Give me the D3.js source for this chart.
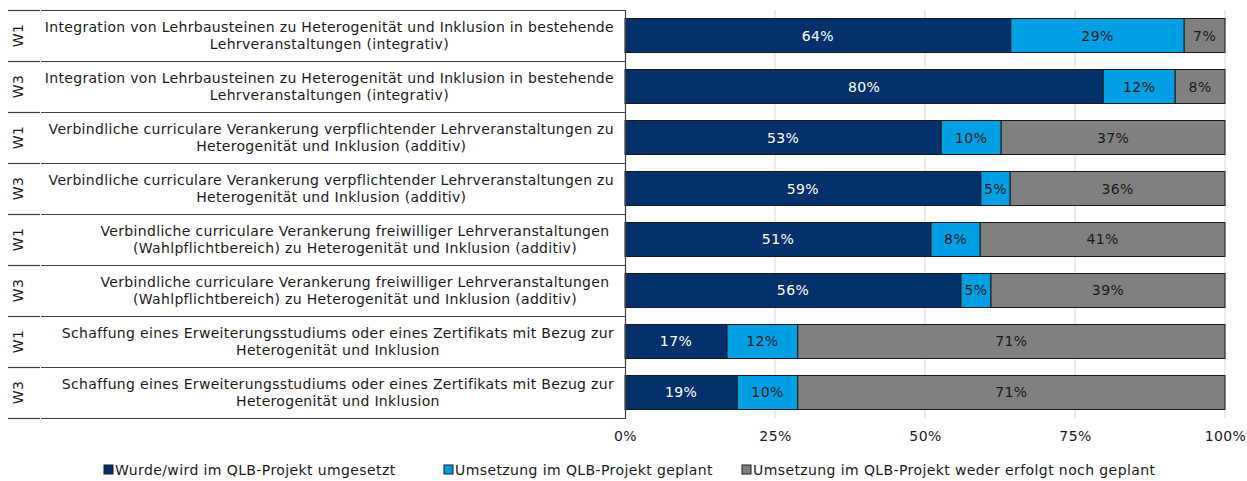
<!DOCTYPE html>
<html>
<head>
<meta charset="utf-8">
<script src="https://cdn.jsdelivr.net/npm/d3@7"></script>
<style>
  body { margin: 0; background: #fff; }
  svg { display: block; }
  text { font-family: "DejaVu Sans", Verdana, sans-serif; letter-spacing: 0.4px; }
  text.cat { letter-spacing: 0.32px; }
</style>
</head>
<body>
<svg id="chart" width="1247" height="481"></svg>
<script>
const waves = ["W1", "W3", "W1", "W3", "W1", "W3", "W1", "W3"];
const categoryLines = [
  ["Integration von Lehrbausteinen zu Heterogenität und Inklusion in bestehende", "Lehrveranstaltungen (integrativ)"],
  ["Integration von Lehrbausteinen zu Heterogenität und Inklusion in bestehende", "Lehrveranstaltungen (integrativ)"],
  ["Verbindliche curriculare Verankerung verpflichtender Lehrveranstaltungen zu", "Heterogenität und Inklusion (additiv)"],
  ["Verbindliche curriculare Verankerung verpflichtender Lehrveranstaltungen zu", "Heterogenität und Inklusion (additiv)"],
  ["Verbindliche curriculare Verankerung freiwilliger Lehrveranstaltungen", "(Wahlpflichtbereich) zu Heterogenität und Inklusion (additiv)"],
  ["Verbindliche curriculare Verankerung freiwilliger Lehrveranstaltungen", "(Wahlpflichtbereich) zu Heterogenität und Inklusion (additiv)"],
  ["Schaffung eines Erweiterungsstudiums oder eines Zertifikats mit Bezug zur", "Heterogenität und Inklusion"],
  ["Schaffung eines Erweiterungsstudiums oder eines Zertifikats mit Bezug zur", "Heterogenität und Inklusion"]
];
const seriesNames = [
  "Wurde/wird im QLB-Projekt umgesetzt",
  "Umsetzung im QLB-Projekt geplant",
  "Umsetzung im QLB-Projekt weder erfolgt noch geplant"
];
const umgesetzt = [64.3, 79.7, 52.7, 59.3, 51.0, 56.0, 17.0, 18.7];
const geplant   = [28.9, 12.0, 10.0,  4.9,  8.2,  5.0, 11.8, 10.1];
const weder     = [ 6.8,  8.3, 37.3, 35.8, 40.8, 39.0, 71.2, 71.2];
const xTicks = [0, 25, 50, 75, 100];
const xTickLabels = ["0%", "25%", "50%", "75%", "100%"];

const colors = ["#04316c", "#009fe3", "#808080"];
const labelColors = ["#ffffff", "#1a1a1a", "#1a1a1a"];
const FS = 14;

const svg = d3.select("#chart");
const pLeft = 625, pRight = 1225, pTop = 10, pBottom = 418;

const x = d3.scaleLinear().domain([0, 100]).range([pLeft, pRight]);
const y = d3.scaleBand().domain(d3.range(waves.length)).range([pTop, pBottom])
  .paddingInner(0.333).paddingOuter(0.1667);
const rowY = d3.scaleBand().domain(d3.range(waves.length)).range([pTop, pBottom]);

// gridlines
svg.append("g").selectAll("line").data(xTicks.filter(d => d > 0)).join("line")
  .attr("x1", d => x(d)).attr("x2", d => x(d))
  .attr("y1", pTop).attr("y2", pBottom)
  .attr("stroke", "#d9d9d9").attr("stroke-width", 1);

// stacked data
const rows = waves.map((w, i) => ({ i, vals: [umgesetzt[i], geplant[i], weder[i]] }));
const stackData = rows.map(r => {
  let acc = 0;
  return r.vals.map((v, k) => { const s = { i: r.i, k, v, x0: acc, x1: acc + v }; acc += v; return s; });
}).flat();

const bars = svg.append("g");
bars.selectAll("rect").data(stackData).join("rect")
  .attr("x", d => x(d.x0)).attr("width", d => x(d.x1) - x(d.x0))
  .attr("y", d => y(d.i)).attr("height", y.bandwidth())
  .attr("fill", d => colors[d.k])
  .attr("stroke", "#1a1a1a").attr("stroke-width", 1);

bars.selectAll("text").data(stackData).join("text")
  .attr("x", d => (x(d.x0) + x(d.x1)) / 2)
  .attr("y", d => y(d.i) + y.bandwidth() / 2)
  .attr("text-anchor", "middle").attr("dominant-baseline", "central")
  .attr("font-size", FS).attr("fill", d => labelColors[d.k])
  .text(d => Math.round(d.v) + "%");

// left table
const table = svg.append("g");
const boundaries = d3.range(waves.length + 1).map(i => i < waves.length ? rowY(i) : pBottom);
boundaries.forEach(b => {
  table.append("line").attr("x1", 8).attr("x2", 40).attr("y1", b + 0.5).attr("y2", b + 0.5)
    .attr("stroke", "#404040").attr("stroke-width", 1.2);
  table.append("line").attr("x1", 41).attr("x2", pLeft).attr("y1", b + 0.5).attr("y2", b + 0.5)
    .attr("stroke", "#404040").attr("stroke-width", 1.2);
});
table.append("line").attr("x1", pLeft + 0.5).attr("x2", pLeft + 0.5).attr("y1", pTop).attr("y2", pBottom + 1)
  .attr("stroke", "#404040").attr("stroke-width", 1.2);

waves.forEach((w, i) => {
  const cy = rowY(i) + rowY.bandwidth() / 2;
  table.append("text")
    .attr("transform", `translate(18,${cy}) rotate(-90)`)
    .attr("text-anchor", "middle").attr("dominant-baseline", "central")
    .attr("font-size", FS).attr("fill", "#1a1a1a").text(w);

  const g = table.append("g");
  const texts = categoryLines[i].map((ln, j) => g.append("text")
    .attr("class", "cat")
    .attr("y", cy + (j === 0 ? -8.5 : 8.5))
    .attr("text-anchor", "middle").attr("dominant-baseline", "central")
    .attr("font-size", FS).attr("fill", "#1a1a1a").text(ln));
  const maxW = d3.max(texts, t => t.node().getComputedTextLength());
  const cx = Math.min(614 - maxW / 2, 355);
  texts.forEach(t => t.attr("x", cx));
});

// x axis
const axis = svg.append("g").attr("transform", `translate(0,${pBottom})`)
  .call(d3.axisBottom(x).tickValues(xTicks).tickSize(0).tickPadding(13)
    .tickFormat((d, i) => xTickLabels[i]));
axis.select(".domain").remove();
axis.selectAll("text").attr("font-size", FS).attr("fill", "#1a1a1a")
  .style("font-family", "\"DejaVu Sans\", Verdana, sans-serif");

// legend
const legendX = [104, 444, 742];
const legend = svg.append("g");
seriesNames.forEach((n, k) => {
  const lg = legend.append("g").attr("transform", `translate(${legendX[k]},470)`);
  lg.append("rect").attr("x", 0).attr("y", -5).attr("width", 9).attr("height", 9)
    .attr("fill", colors[k]).attr("stroke", "#1a1a1a").attr("stroke-width", 1);
  lg.append("text").attr("x", 11).attr("y", 0).attr("dominant-baseline", "central")
    .attr("font-size", FS).attr("fill", "#1a1a1a").text(n);
});
</script>
</body>
</html>
